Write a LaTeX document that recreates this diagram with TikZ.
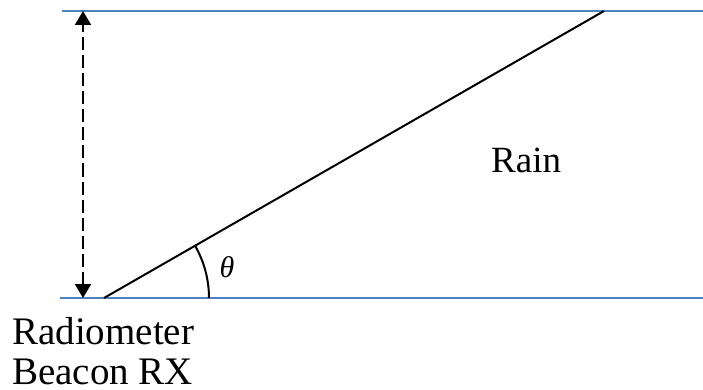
\documentclass[tikz,border=0pt]{standalone}
\usepackage{fontspec}
\setmainfont{Liberation Serif}
\usetikzlibrary{arrows.meta}
\definecolor{lineblue}{RGB}{79,129,189}
\tikzset{
  boundary/.style={draw=lineblue, line width=2pt},
  ray/.style={draw=black, line width=2pt},
  dasharrow/.style={draw=black, line width=2pt, dash pattern=on 13pt off 5pt, {Triangle[length=14pt,width=16pt]}-{Triangle[length=14pt,width=16pt]}},
  lbl/.style={inner sep=0pt, text depth=0pt, font=\fontsize{39}{40}\selectfont}
}
\begin{document}
\begin{tikzpicture}[x=1pt,y=-1pt]
\useasboundingbox (0,0) rectangle (703,390);
\coordinate (tl) at (62,11);
\coordinate (tr) at (703,11);
\coordinate (bl) at (60,298);
\coordinate (br) at (703,298);
\coordinate (rx) at (104,298);
\coordinate (top) at (604,11);
\coordinate (arrtop) at (83,11);
\coordinate (arrbot) at (83,298);
\draw[boundary] (tl) -- (tr);
\draw[boundary] (bl) -- (br);
\draw[ray] (rx) -- (top);
\draw[dasharrow] (arrbot) -- (arrtop);
\draw[ray] ([xshift=105pt]rx) arc[start angle=0, end angle=-29.9, radius=105];
\node[inner sep=0pt, font=\fontsize{30}{30}\selectfont\itshape] (theta) at (227,267) {θ};
\node[inner sep=0pt, font=\fontsize{37}{40}\selectfont, anchor=base west] (rain) at (491,172) {Rain};
\node[lbl, anchor=base west] (radio) at (12,344) {Radiometer};
\node[lbl, anchor=base west] (beacon) at (12,384) {Beacon RX};
\end{tikzpicture}
\end{document}
